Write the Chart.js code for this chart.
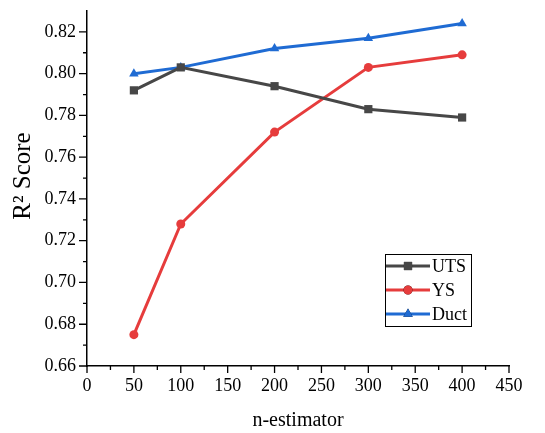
<!DOCTYPE html>
<html lang="en-US">

<head>
    <meta charset="UTF-8">
    <title>r2 score vs n-estimator</title>
    <style>
        html, body { margin: 0; padding: 0; background: #fff; }
        #wrap { width: 545px; height: 433px; }
    </style>
</head>

<body>
    <div id="wrap">
        <canvas id="r2chart"></canvas>
    </div>
    <script src="https://cdn.jsdelivr.net/npm/chart.js"></script>
    <script>
        // values
        const estimators = [50, 100, 200, 300, 400]
        const uts = [0.792, 0.803, 0.794, 0.783, 0.779]
        const ys = [0.675, 0.728, 0.772, 0.803, 0.809]
        const duct = [0.800, 0.803, 0.812, 0.817, 0.824]

        // axis ticks
        const xTicks = [0, 50, 100, 150, 200, 250, 300, 350, 400, 450]
        const xMinor = [25, 75, 125, 175, 225, 275, 325, 375, 425]
        const yTicks = [0.66, 0.68, 0.70, 0.72, 0.74, 0.76, 0.78, 0.80, 0.82]
        const yMinor = [0.67, 0.69, 0.71, 0.73, 0.75, 0.77, 0.79, 0.81]

        const serif = "'Liberation Serif', 'DejaVu Serif', serif"
        Chart.defaults.font.family = serif
        Chart.defaults.color = '#000'

        // origin style tick marks (major + minor, pointing out)
        const axisTicks = {
            id: 'axisTicks',
            afterDraw(chart) {
                const ctx = chart.ctx
                const x = chart.scales.x
                const y = chart.scales.y
                ctx.save()
                ctx.strokeStyle = '#000'
                ctx.lineWidth = 1.3
                ctx.beginPath()
                xTicks.forEach(v => { const p = x.getPixelForValue(v); ctx.moveTo(p, x.top); ctx.lineTo(p, x.top + 7) })
                xMinor.forEach(v => { const p = x.getPixelForValue(v); ctx.moveTo(p, x.top); ctx.lineTo(p, x.top + 4) })
                yTicks.forEach(v => { const p = y.getPixelForValue(v); ctx.moveTo(y.right, p); ctx.lineTo(y.right - 8, p) })
                yMinor.forEach(v => { const p = y.getPixelForValue(v); ctx.moveTo(y.right, p); ctx.lineTo(y.right - 4, p) })
                ctx.stroke()
                ctx.restore()
            }
        }

        // boxed legend in the lower right of the plot
        const boxLegend = {
            id: 'boxLegend',
            afterDraw(chart) {
                const ctx = chart.ctx
                const area = chart.chartArea
                const bx = area.right - 124, by = area.bottom - 112, bw = 86, bh = 72
                ctx.save()
                ctx.strokeStyle = '#000'
                ctx.lineWidth = 1
                ctx.strokeRect(bx + 0.5, by + 0.5, bw, bh)
                ctx.font = '18px ' + serif
                ctx.textBaseline = 'middle'
                chart.data.datasets.forEach((ds, i) => {
                    const ry = by + 12 + i * 24
                    ctx.strokeStyle = ds.borderColor
                    ctx.lineWidth = 3
                    ctx.beginPath()
                    ctx.moveTo(bx + 1, ry)
                    ctx.lineTo(bx + 45, ry)
                    ctx.stroke()
                    Chart.helpers.drawPoint(ctx, {
                        pointStyle: ds.pointStyle, radius: ds.pointRadius, rotation: 0,
                        borderWidth: 0
                    }, bx + 23, ry)
                    ctx.fillStyle = ds.backgroundColor
                    ctx.fill()
                    ctx.fillStyle = '#000'
                    ctx.fillText(ds.label, bx + 47, ry + 1)
                })
                ctx.restore()
            }
        }

        function makeSet(label, values, color, style, radius) {
            return {
                label: label,
                data: values,
                borderColor: color,
                backgroundColor: color,
                borderWidth: 3,
                pointStyle: style,
                pointRadius: radius,
                pointHoverRadius: radius,
                pointBorderWidth: 0,
                tension: 0,
                fill: false
            }
        }

        const ctx = document.getElementById('r2chart').getContext('2d')
        new Chart(ctx, {
            type: 'line',
            data: {
                labels: estimators,
                datasets: [
                    makeSet('UTS', uts, '#474747', 'rect', 5.8),
                    makeSet('YS', ys, '#e63c3c', 'circle', 4.5),
                    makeSet('Duct', duct, '#1f6bd3', 'triangle', 5.5)
                ]
            },
            options: {
                responsive: true,
                maintainAspectRatio: false,
                animation: false,
                events: [],
                layout: { padding: { top: 11, right: 36, left: 0, bottom: 0 } },
                plugins: {
                    legend: { display: false },
                    tooltip: { enabled: false }
                },
                scales: {
                    x: {
                        type: 'linear',
                        min: 0,
                        max: 450,
                        afterBuildTicks: s => { s.ticks = xTicks.map(v => ({ value: v })) },
                        afterFit: s => { s.height = 67; s.paddingLeft = 0; s.paddingRight = 0 },
                        grid: { display: false, drawTicks: false },
                        border: { display: true, color: '#000', width: 1.5 },
                        ticks: {
                            padding: 9,
                            color: '#000',
                            font: { family: serif, size: 18 },
                            maxRotation: 0,
                            autoSkip: false
                        },
                        title: {
                            display: true,
                            text: 'n-estimator',
                            color: '#000',
                            font: { family: serif, size: 20 },
                            padding: { top: 0, bottom: 0 }
                        }
                    },
                    y: {
                        min: 0.66,
                        max: 0.83,
                        afterBuildTicks: s => { s.ticks = yTicks.map(v => ({ value: v })) },
                        afterFit: s => { s.width = 87; s.paddingTop = 0; s.paddingBottom = 0 },
                        grid: { display: false, drawTicks: false },
                        border: { display: true, color: '#000', width: 1.5 },
                        ticks: {
                            padding: 11,
                            color: '#000',
                            font: { family: serif, size: 18 },
                            autoSkip: false,
                            callback: v => v.toFixed(2)
                        },
                        title: {
                            display: true,
                            text: '    R² Score',
                            color: '#000',
                            font: { family: serif, size: 25 },
                            padding: { top: 8, bottom: 0 }
                        }
                    }
                }
            },
            plugins: [axisTicks, boxLegend]
        })
    </script>

</body>

</html>
